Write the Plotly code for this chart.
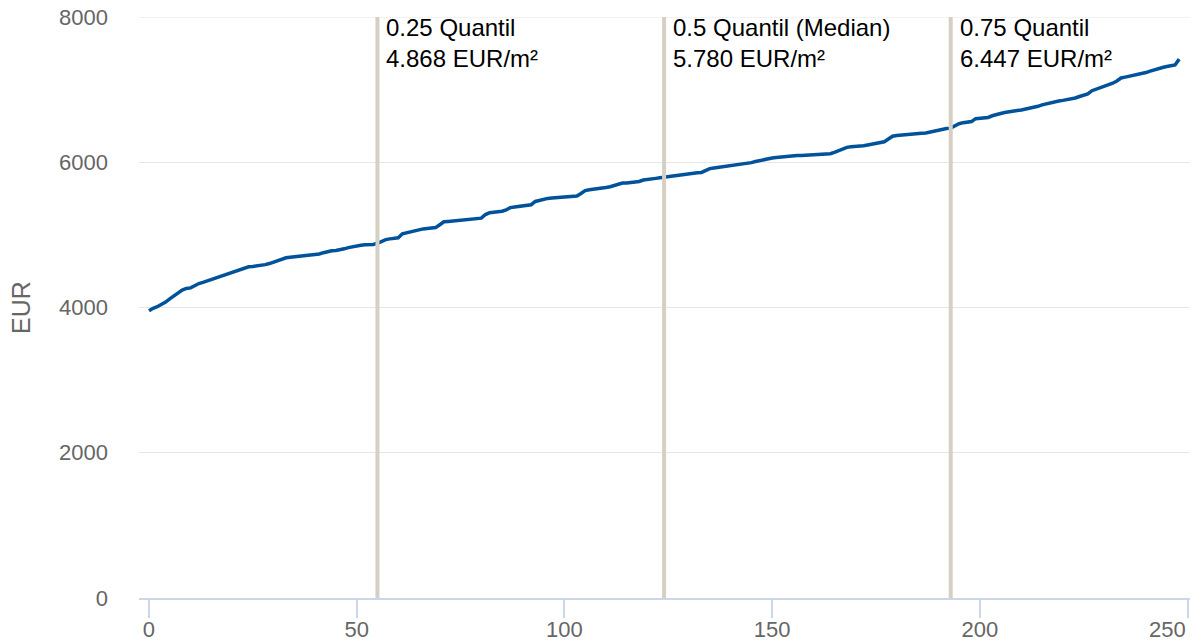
import plotly.graph_objects as go

# sorted prices per object (EUR/m²)
prices = [
    3955, 3990, 4010, 4040, 4075, 4120, 4160, 4200, 4240, 4262,
    4270, 4300, 4330, 4345, 4365, 4385, 4400, 4420, 4440, 4470,
    4490, 4510, 4530, 4545, 4560, 4565, 4570, 4578, 4590, 4605,
    4625, 4650, 4675, 4685, 4693, 4700, 4704, 4710, 4714, 4720,
    4728, 4737, 4755, 4772, 4780, 4786, 4792, 4808, 4825, 4838,
    4850, 4858, 4864, 4866, 4868, 4885, 4910, 4935, 4945, 4952,
    4960, 5015, 5030, 5040, 5060, 5075, 5082, 5088, 5094, 5100,
    5140, 5180, 5185, 5190, 5193, 5200, 5212, 5218, 5222, 5226,
    5230, 5280, 5305, 5312, 5318, 5325, 5345, 5375, 5385, 5393,
    5400, 5407, 5415, 5460, 5478, 5492, 5502, 5507, 5511, 5515,
    5520, 5524, 5527, 5535, 5570, 5610, 5622, 5627, 5632, 5640,
    5652, 5662, 5680, 5705, 5713, 5716, 5720, 5724, 5735, 5755,
    5766, 5772, 5778, 5786, 5794, 5805, 5815, 5825, 5835, 5843,
    5848, 5852, 5855, 5860, 5885, 5912, 5920, 5928, 5936, 5942,
    5950, 5960, 5968, 5975, 5985, 5995, 6010, 6025, 6035, 6052,
    6058, 6065, 6072, 6080, 6086, 6090, 6092, 6094, 6096, 6098,
    6101, 6105, 6109, 6113, 6118, 6135, 6155, 6180, 6205, 6212,
    6215, 6218, 6228, 6238, 6250, 6262, 6272, 6282, 6320, 6358,
    6368, 6375, 6382, 6387, 6391, 6395, 6398, 6402, 6415, 6435,
    6450, 6458, 6464, 6470, 6500, 6530, 6545, 6552, 6560, 6600,
    6609, 6613, 6617, 6640, 6662, 6672, 6685, 6697, 6704, 6712,
    6720, 6730, 6740, 6748, 6770, 6790, 6805, 6818, 6830, 6843,
    6852, 6862, 6875, 6885, 6905, 6925, 6940, 6985, 7005, 7025,
    7045, 7065, 7088, 7120, 7160, 7172, 7183, 7195, 7205, 7215,
    7235, 7255, 7274, 7290, 7305, 7318, 7328, 7340, 7420,
]

# quantile markers: position on x axis and label
quantile_pos = [55, 124, 193]
quantile_names = ["0.25 Quantil", "0.5 Quantil (Median)", "0.75 Quantil"]
quantile_values = ["4.868 EUR/m²", "5.780 EUR/m²", "6.447 EUR/m²"]

y_ticks = [0, 2000, 4000, 6000, 8000]
x_ticks = [0, 50, 100, 150, 200, 250]

font_family = "Liberation Sans, Arial, Helvetica, sans-serif"
grey = "#666666"

fig = go.Figure()

fig.add_trace(go.Scatter(
    x=list(range(len(prices))),
    y=prices,
    mode="lines",
    line=dict(color="#00529a", width=3.5),
    showlegend=False,
    hoverinfo="y",
))

# plotly skips the grid line sitting on the top edge, so draw that one by hand
fig.add_shape(type="line", xref="paper", x0=0, x1=1, y0=y_ticks[-1], y1=y_ticks[-1],
              line=dict(color="#e6e6e6", width=1), layer="below")

# vertical quantile lines + labels
for pos, name, val in zip(quantile_pos, quantile_names, quantile_values):
    fig.add_shape(type="line", x0=pos, x1=pos, y0=0, y1=1, yref="paper",
                  line=dict(color="#d6cfc4", width=4), layer="above")
    fig.add_annotation(x=pos, y=1, yref="paper", xanchor="left", yanchor="top",
                       xshift=7, yshift=5, showarrow=False, align="left",
                       text=f"{name}<br>{val}",
                       font=dict(color="#000000", size=24, family=font_family))

# last x label sits flush right against the tick (like the original)
fig.add_annotation(x=x_ticks[-1], y=0, yref="paper", xanchor="right", yanchor="top",
                   yshift=-17, showarrow=False, text=str(x_ticks[-1]),
                   font=dict(color=grey, size=22, family=font_family))

fig.update_layout(
    width=1194, height=643,
    margin=dict(l=139, r=4, t=17, b=45),
    plot_bgcolor="white", paper_bgcolor="white",
    font=dict(family=font_family, color=grey, size=22),
)

fig.update_xaxes(
    range=[-2.4, 250.6], tickvals=x_ticks,
    ticktext=[str(v) for v in x_ticks[:-1]] + [""],
    showgrid=False, zeroline=False, automargin=False,
    showline=True, linecolor="#ccd6eb", linewidth=2,
    ticks="outside", ticklen=18, tickwidth=2, tickcolor="#ccd6eb",
    ticklabelstandoff=-7, ticklabeloverflow="allow",
    tickfont=dict(size=22, color=grey),
)
fig.update_yaxes(
    range=[0, 8000], tickvals=y_ticks, tickformat="d",
    showgrid=True, gridcolor="#e6e6e6", gridwidth=1, zeroline=False,
    automargin=False, ticklabelstandoff=30, ticklabeloverflow="allow",
    tickfont=dict(size=22, color=grey),
    title=dict(text="EUR", font=dict(size=25, color=grey), standoff=21),
)

# drop the browser's default 8px body margin so the figure fills the window
fig.write_html("out.html", config={"displayModeBar": False},
               post_script="document.body.style.margin = '0';")
